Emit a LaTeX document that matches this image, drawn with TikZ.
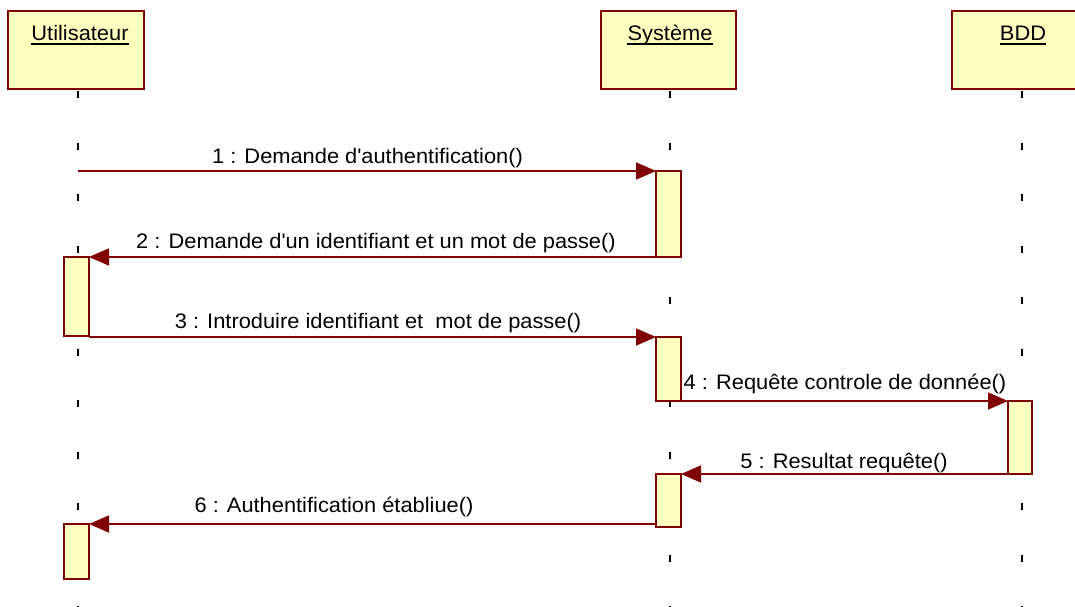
\documentclass[tikz,border=0pt]{standalone}
\usepackage{fontspec}
\setmainfont{Liberation Sans}[FakeStretch=1.04]
\usetikzlibrary{arrows.meta}
\definecolor{umlred}{RGB}{128,0,0}
\definecolor{umlfill}{RGB}{255,255,192}
\begin{document}
\begin{tikzpicture}[x=1pt,y=-1pt,
  head/.style={draw=umlred,fill=umlfill,line width=1.6pt,rectangle,inner sep=0pt,outer sep=0pt,anchor=north west},
  act/.style={draw=umlred,fill=umlfill,line width=1.6pt,rectangle,inner sep=0pt,outer sep=0pt,minimum width=25pt,anchor=north},
  life/.style={draw=black,line width=1.8pt,dash pattern=on 7pt off 44.5pt},
  msg/.style={draw=umlred,line width=1.6pt,-{Triangle[length=20pt,width=17pt]}},
  txt/.style={font=\fontsize{21}{25}\selectfont,inner sep=0pt,anchor=base},
  hdtext/.style={font=\fontsize{21}{25}\selectfont,inner sep=0pt,anchor=base},
  uline/.style={draw=black,line width=1.6pt}]
\useasboundingbox (0,0) rectangle (1075,607);
\clip (0,0) rectangle (1075,607);
% headers
\node[head,minimum width=136pt,minimum height=78pt] (u) at (8,11) {};
\node[head,minimum width=135pt,minimum height=78pt] (s) at (601,11) {};
\node[head,minimum width=135pt,minimum height=78pt] (b) at (952,11) {};
\node[hdtext] (un) at (80,41) {Utilisateur};
\node[hdtext] (sn) at (670,41) {Système};
\node[hdtext] (bn) at (1023,41) {BDD};
\draw[uline] ([yshift=-2.8pt]un.base west) -- ([yshift=-2.8pt]un.base east);
\draw[uline] ([yshift=-2.8pt]sn.base west) -- ([yshift=-2.8pt]sn.base east);
\draw[uline] ([yshift=-2.8pt]bn.base west) -- ([yshift=-2.8pt]bn.base east);
% lifelines
\coordinate (ut) at (78,91);  \coordinate (ub) at (78,610);
\coordinate (st) at (670,91); \coordinate (sb) at (670,610);
\coordinate (bt) at (1022,91); \coordinate (bb) at (1022,610);
\draw[life] (ut) -- (ub);
\draw[life] (st) -- (sb);
\draw[life] (bt) -- (bb);
% activations
\node[act,minimum height=86pt] (S1) at (668.5,171) {};
\node[act,minimum height=79pt] (U1) at (76.5,257) {};
\node[act,minimum height=64pt] (S2) at (668.5,337) {};
\node[act,minimum height=73pt,minimum width=24pt] (B1) at (1020,401) {};
\node[act,minimum height=53pt] (S3) at (668.5,474) {};
\node[act,minimum height=55pt] (U2) at (76.5,524) {};
% messages
\coordinate (m1s) at (78,171);
\draw[msg] (m1s) -- (S1.north west);
\draw[msg] (S1.south west) -- (U1.north east);
\draw[msg] (U1.south east |- S2.north west) -- (S2.north west);
\draw[msg] (S2.south east) -- (B1.north west);
\draw[msg] (bt |- B1.south) -- (S3.north east);
\draw[msg] (S3.west |- U2.north east) -- (U2.north east);
% labels
\node[txt] (l1) at (367.5,163) {1 : Demande d\textquotesingle authentification()};
\node[txt] (l2) at (376,248) {2 : Demande d\textquotesingle un identifiant et un mot de passe()};
\node[txt] (l3) at (378,328) {3 : Introduire identifiant et\ \ mot de passe()};
\node[txt] (l4) at (845,389) {4 : Requête controle de donnée()};
\node[txt] (l5) at (844,468) {5 : Resultat requête()};
\node[txt] (l6) at (334,512) {6 : Authentification établiue()};
\end{tikzpicture}
\end{document}
